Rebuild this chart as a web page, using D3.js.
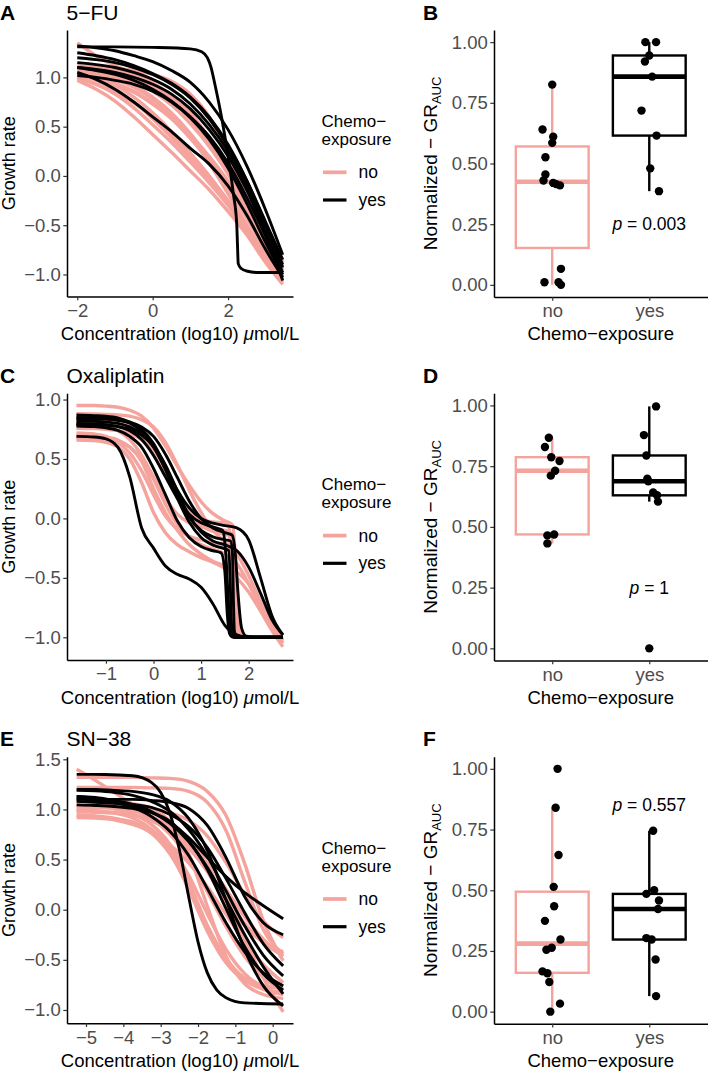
<!DOCTYPE html>
<html><head><meta charset="utf-8">
<script src="https://cdn.jsdelivr.net/npm/d3@7"></script>
<style>
body{margin:0;background:#fff;}
svg{display:block;font-family:"Liberation Sans",Arial,Helvetica,sans-serif;}
</style></head><body>
<svg id="fig" width="708" height="1072"></svg>
<script>
// ---------------- DATA ----------------
// Panel A: 5-FU growth-rate curves (log10 concentration grid, GR values)
const gridFU = [-2,-1.5,-1,-0.5,0,0.5,1,1.5,2,2.5,3,3.45];
const fuNo = [
 [gridFU,[0.97,0.88,0.76,0.6,0.42,0.24,0.05,-0.14,-0.36,-0.6,-0.88,-1.1]],
 [gridFU,[1.0,0.93,0.83,0.69,0.52,0.34,0.14,-0.07,-0.3,-0.56,-0.84,-1.07]],
 [gridFU,[1.03,0.97,0.88,0.75,0.58,0.39,0.18,-0.04,-0.28,-0.54,-0.82,-1.05]],
 [gridFU,[1.05,1.0,0.92,0.8,0.64,0.45,0.23,0.0,-0.25,-0.52,-0.8,-1.02]],
 [gridFU,[1.1,1.08,1.05,0.99,0.9,0.77,0.58,0.33,0.03,-0.33,-0.67,-0.92]],
 [gridFU,[1.12,1.1,1.07,1.02,0.94,0.82,0.64,0.38,0.05,-0.32,-0.66,-0.9]],
 [gridFU,[1.08,1.05,1.0,0.92,0.8,0.64,0.43,0.18,-0.1,-0.42,-0.73,-0.96]],
 [gridFU,[1.35,1.22,1.12,1.04,0.94,0.8,0.62,0.39,0.1,-0.25,-0.6,-0.87]],
 [gridFU,[1.02,0.98,0.93,0.85,0.73,0.58,0.38,0.15,-0.12,-0.43,-0.75,-1.0]],
 [gridFU,[1.06,1.03,0.98,0.9,0.78,0.62,0.4,0.13,-0.18,-0.5,-0.8,-1.02]],
 [gridFU,[1.1,1.1,1.09,1.07,1.03,0.96,0.83,0.6,0.22,-0.25,-0.65,-0.88]],
 [gridFU,[0.99,0.93,0.85,0.74,0.6,0.43,0.23,0.0,-0.26,-0.55,-0.85,-1.08]],
 [gridFU,[1.1,1.07,1.03,0.96,0.86,0.72,0.53,0.3,0.02,-0.3,-0.62,-0.85]],
 [gridFU,[1.04,1.0,0.94,0.86,0.74,0.59,0.41,0.2,-0.05,-0.34,-0.66,-0.95]]
];
const fuYes = [
 [[-2,-1,0,1,1.3,1.45,1.55,1.65,1.83,2.0,2.14,2.23,2.25,2.27,2.35,2.49,2.8,3.45],
  [1.31,1.31,1.305,1.29,1.26,1.2,1.1,0.93,0.59,0.2,-0.18,-0.49,-0.7,-0.89,-0.94,-0.965,-0.98,-0.98]],
 [gridFU,[1.32,1.3,1.27,1.22,1.16,1.07,0.95,0.75,0.47,0.1,-0.35,-0.8]],
 [gridFU,[1.2,1.18,1.15,1.1,1.03,0.93,0.79,0.58,0.3,-0.05,-0.47,-0.85]],
 [gridFU,[1.15,1.13,1.1,1.05,0.98,0.88,0.73,0.52,0.25,-0.1,-0.52,-0.9]],
 [gridFU,[1.1,1.08,1.05,1.0,0.93,0.83,0.68,0.47,0.2,-0.15,-0.58,-0.98]],
 [gridFU,[1.05,0.98,0.88,0.75,0.6,0.45,0.28,0.12,-0.1,-0.4,-0.75,-1.03]],
 [gridFU,[1.02,1.0,0.97,0.93,0.86,0.75,0.59,0.37,0.08,-0.28,-0.68,-1.0]],
 [gridFU,[1.25,1.22,1.18,1.12,1.04,0.94,0.8,0.6,0.32,-0.05,-0.5,-0.93]],
 [gridFU,[1.1,1.07,1.03,0.97,0.88,0.76,0.6,0.4,0.13,-0.22,-0.62,-1.06]]
];

// Panel C: Oxaliplatin
const gridOx = [-1.62,-1.25,-1,-0.75,-0.5,-0.25,0,0.25,0.5,0.75,1,1.25,1.5,1.75,2,2.25,2.5,2.72];
const oxNo = [
 [[-1.62,-1.25,-1,-0.75,-0.5,-0.25,0,0.25,0.5,0.75,1,1.25,1.5,1.65,1.7,1.74,1.78,1.85,2.0,2.72],
  [0.95,0.95,0.945,0.935,0.91,0.86,0.76,0.61,0.44,0.28,0.14,0.04,-0.02,-0.05,-0.2,-0.6,-0.9,-0.98,-1.0,-1.0]],
 [gridOx,[0.66,0.655,0.64,0.6,0.5,0.3,0.05,-0.12,-0.22,-0.28,-0.33,-0.37,-0.42,-0.5,-0.62,-0.78,-0.95,-1.08]],
 [gridOx,[0.7,0.695,0.685,0.66,0.6,0.48,0.25,0.05,-0.1,-0.22,-0.3,-0.36,-0.4,-0.45,-0.55,-0.72,-0.9,-1.05]],
 [[-1.62,-1.25,-1,-0.75,-0.5,-0.25,0,0.25,0.5,0.75,1,1.25,1.5,1.62,1.68,1.72,1.78,1.9,2.72],
  [0.796,0.788,0.772,0.737,0.664,0.53,0.35,0.17,0.036,-0.037,-0.072,-0.088,-0.1,-0.12,-0.4,-0.8,-0.97,-1.0,-1.0]],
 [[-1.62,-1.25,-1,-0.75,-0.5,-0.25,0,0.25,0.5,0.75,1,1.25,1.5,1.62,1.68,1.73,1.8,2.0,2.72],
  [0.72,0.71,0.69,0.64,0.55,0.4,0.2,0.02,-0.09,-0.15,-0.18,-0.2,-0.22,-0.23,-0.5,-0.85,-0.98,-1.0,-1.0]],
 [gridOx,[0.68,0.675,0.67,0.65,0.6,0.5,0.33,0.12,-0.05,-0.16,-0.22,-0.26,-0.3,-0.38,-0.55,-0.76,-0.93,-1.03]],
 [[-1.62,-1.25,-1,-0.75,-0.5,-0.25,0,0.25,0.5,0.75,1,1.25,1.5,1.65,1.72,1.77,1.83,1.95,2.72],
  [0.759,0.756,0.75,0.74,0.715,0.66,0.55,0.39,0.187,0.032,-0.06,-0.11,-0.134,-0.15,-0.35,-0.75,-0.96,-1.0,-1.0]],
 [gridOx,[0.88,0.878,0.875,0.87,0.86,0.83,0.77,0.64,0.45,0.24,0.05,-0.1,-0.2,-0.3,-0.48,-0.7,-0.9,-1.02]],
 [[-1.62,-1.25,-1,-0.75,-0.5,-0.25,0,0.25,0.5,0.75,1,1.25,1.5,1.58,1.63,1.68,1.74,1.9,2.72],
  [0.82,0.818,0.815,0.8,0.77,0.7,0.57,0.39,0.2,0.06,-0.01,-0.03,-0.04,-0.06,-0.4,-0.85,-0.98,-1.0,-1.0]]
];
const oxYes = [
 [gridOx,[0.69,0.685,0.67,0.6,0.35,-0.08,-0.25,-0.4,-0.47,-0.51,-0.58,-0.72,-0.9,-0.98,-1.0,-1.0,-1.0,-1.0]],
 [gridOx,[0.87,0.865,0.86,0.845,0.81,0.75,0.63,0.44,0.24,0.09,0.0,-0.04,-0.06,-0.08,-0.18,-0.5,-0.83,-0.98]],
 [[-1.62,-1.25,-1,-0.75,-0.5,-0.25,0,0.25,0.5,0.75,1,1.25,1.5,1.62,1.66,1.68,1.7,1.75,2,2.72],
  [0.849,0.846,0.84,0.826,0.8,0.73,0.61,0.42,0.19,0.01,-0.1,-0.155,-0.18,-0.19,-0.3,-0.7,-0.95,-0.99,-1.0,-1.0]],
 [[-1.62,-1.25,-1,-0.75,-0.5,-0.25,0,0.25,0.5,0.75,1,1.25,1.5,1.58,1.61,1.63,1.66,1.72,2,2.72],
  [0.819,0.817,0.81,0.8,0.77,0.71,0.6,0.41,0.17,-0.03,-0.16,-0.225,-0.256,-0.27,-0.5,-0.8,-0.97,-1.0,-1.0,-1.0]],
 [[-1.62,-1.25,-1,-0.75,-0.5,-0.25,0,0.25,0.5,0.75,1,1.25,1.45,1.52,1.58,1.63,1.7,2,2.72],
  [0.798,0.795,0.788,0.772,0.737,0.664,0.53,0.35,0.17,0.036,-0.037,-0.072,-0.1,-0.3,-0.75,-0.95,-1.0,-1.0,-1.0]],
 [gridOx,[0.789,0.787,0.783,0.773,0.75,0.7,0.61,0.45,0.23,0.02,-0.115,-0.19,-0.223,-0.27,-0.41,-0.63,-0.86,-0.98]],
 [[-1.62,-1.25,-1,-0.75,-0.5,-0.25,0,0.25,0.5,0.75,1,1.25,1.42,1.5,1.55,1.6,1.68,2,2.72],
  [0.778,0.772,0.763,0.74,0.69,0.6,0.42,0.2,-0.02,-0.16,-0.237,-0.272,-0.29,-0.45,-0.8,-0.97,-1.0,-1.0,-1.0]],
 [[-1.62,-1.25,-1,-0.75,-0.5,-0.25,0,0.25,0.5,0.75,1,1.25,1.5,1.65,1.72,1.78,1.85,1.95,2.2,2.72],
  [0.84,0.838,0.834,0.827,0.81,0.77,0.69,0.54,0.345,0.147,0.0,-0.08,-0.12,-0.14,-0.3,-0.65,-0.92,-0.99,-1.0,-1.0]]
];

// Panel E: SN-38
const gridSN = [-5.25,-4.75,-4.25,-3.75,-3.25,-2.75,-2.25,-1.75,-1.25,-0.75,-0.25,0.28];
const snNo = [
 [gridSN,[1.4,1.29,1.17,1.05,0.93,0.8,0.62,0.38,0.06,-0.3,-0.68,-1.02]],
 [gridSN,[1.32,1.32,1.32,1.32,1.315,1.31,1.28,1.18,0.94,0.46,-0.11,-0.51]],
 [gridSN,[1.22,1.22,1.22,1.22,1.215,1.21,1.18,1.07,0.79,0.28,-0.2,-0.44]],
 [gridSN,[0.944,0.934,0.913,0.864,0.762,0.555,0.231,-0.163,-0.485,-0.691,-0.794,-0.845]],
 [gridSN,[0.994,0.986,0.965,0.915,0.802,0.571,0.203,-0.214,-0.53,-0.708,-0.79,-0.827]],
 [gridSN,[1.041,1.031,1.007,0.956,0.851,0.654,0.342,-0.042,-0.395,-0.637,-0.773,-0.843]],
 [gridSN,[0.918,0.914,0.904,0.875,0.8,0.62,0.278,-0.158,-0.501,-0.68,-0.755,-0.785]],
 [gridSN,[1.087,1.073,1.048,0.999,0.909,0.752,0.508,0.18,-0.169,-0.466,-0.675,-0.809]],
 [gridSN,[0.992,0.984,0.97,0.941,0.885,0.786,0.622,0.39,0.118,-0.138,-0.328,-0.458]],
 [gridSN,[1.04,1.031,1.015,0.984,0.929,0.833,0.686,0.466,0.205,-0.07,-0.294,-0.466]],
 [gridSN,[0.976,0.972,0.963,0.942,0.897,0.805,0.64,0.388,0.092,-0.16,-0.325,-0.42]],
 [gridSN,[1.079,1.078,1.073,1.058,1.013,0.88,0.561,0.033,-0.464,-0.738,-0.846,-0.884]],
 [gridSN,[0.939,0.924,0.897,0.85,0.772,0.648,0.468,0.229,-0.047,-0.32,-0.549,-0.726]],
 [gridSN,[1.019,1.019,1.016,1.011,0.997,0.966,0.891,0.735,0.47,0.15,-0.115,-0.277]]
];
const snYes = [
 [[-5.25,-4.5,-3.75,-3.25,-3.0,-2.75,-2.5,-2.25,-2.0,-1.75,-1.5,-1.25,-0.75,0.28],
  [1.35,1.349,1.336,1.27,1.17,0.96,0.6,0.13,-0.32,-0.63,-0.8,-0.878,-0.929,-0.94]],
 [gridSN,[1.13,1.11,1.08,1.04,0.97,0.87,0.72,0.52,0.33,0.17,0.04,-0.09]],
 [gridSN,[1.1,1.1,1.1,1.1,1.09,1.07,1.01,0.84,0.52,0.13,-0.13,-0.25]],
 [gridSN,[1.19,1.185,1.17,1.14,1.08,0.98,0.8,0.53,0.186,-0.16,-0.455,-0.66]],
 [gridSN,[1.046,1.04,1.03,1.01,0.97,0.88,0.69,0.4,0.01,-0.37,-0.64,-0.8]],
 [gridSN,[1.2,1.2,1.19,1.18,1.15,1.08,0.91,0.59,0.1,-0.4,-0.76,-0.96]],
 [gridSN,[1.11,1.09,1.07,1.02,0.93,0.78,0.54,0.21,-0.13,-0.42,-0.63,-0.76]],
 [gridSN,[1.08,1.07,1.06,1.05,1.02,0.95,0.83,0.62,0.31,-0.03,-0.34,-0.56]],
 [gridSN,[1.13,1.12,1.09,1.05,0.98,0.86,0.68,0.42,0.1,-0.25,-0.57,-0.84]]
];

// Normalized GR_AUC values per sample, with horizontal jitter offsets
const fuAucNo  = [0.825,0.64,0.61,0.585,0.526,0.455,0.43,0.42,0.415,0.41,0.011,0.066,0.011,0.0];
const fuJitNo  = [0,-0.1,0.01,0,-0.07,-0.07,-0.09,0.01,0.04,0.08,-0.08,0.09,0.065,0.09];
const fuAucYes = [1.0,1.0,0.945,0.92,0.858,0.718,0.615,0.48,0.386];
const fuJitYes = [-0.04,0.07,0,-0.045,0.03,-0.08,0.075,0.01,0.1];
const oxAucNo  = [0.867,0.829,0.787,0.771,0.731,0.711,0.465,0.469,0.432];
const oxJitNo  = [-0.035,-0.075,-0.01,0.075,0.03,-0.015,-0.05,0.02,-0.05];
const oxAucYes = [0.996,0.878,0.794,0.698,0.688,0.642,0.63,0.604,0.0];
const oxJitYes = [0.07,-0.055,-0.03,-0.02,-0.01,0.04,0.08,0.09,0];
const snAucNo  = [1.0,0.84,0.645,0.514,0.434,0.374,0.297,0.263,0.255,0.166,0.158,0.122,0.033,0.0];
const snJitNo  = [0.055,0.035,0.065,0.015,0.02,-0.075,0.085,-0.005,-0.06,-0.1,-0.05,-0.03,0.08,-0.02];
const snAucYes = [0.745,0.485,0.5,0.458,0.423,0.303,0.297,0.215,0.064];
const snJitYes = [0.04,-0.03,0.05,0.1,0.09,-0.03,0.025,0.065,0.07];

const groups = ["no","yes"];
const drugs = ["5\u2212FU","Oxaliplatin","SN\u221238"];
const letters = [["A","B"],["C","D"],["E","F"]];
const pValues = ["0.003","1","0.557"];
const pPos = [0.25,0.25,0.85];
const fuXTicks = [-2,0,2], fuYTicks = [-1,-0.5,0,0.5,1];
const oxXTicks = [-1,0,1,2], oxYTicks = [-1,-0.5,0,0.5,1];
const snXTicks = [-5,-4,-3,-2,-1,0], snYTicks = [-1,-0.5,0,0.5,1,1.5];
const aucTicks = [0,0.25,0.5,0.75,1];

// ---------------- DRAWING ----------------
const PINK = "#F5A39D";
const GREY = "#4D4D4D";
const svg = d3.select("#fig");
const rowTop = [30, 393.3, 756.7], rowBot = [296.5, 660, 1023.3];
const LX = [67, 293], RX = [494, 707.5];
const FONT_TICK = 18.5, FONT_TITLE = 18.5;
const PINK_W = 3.4, BLACK_W = 2.9;
const minus = v => (v < 0 ? "\u2212" : "") + Math.abs(v);

function styleAxis(g){
  g.select(".domain").attr("stroke","#000").attr("stroke-width",1.5);
  g.selectAll(".tick line").attr("stroke","#333").attr("stroke-width",1.2);
  g.selectAll(".tick text").attr("fill",GREY).style("font-size",FONT_TICK+"px");
}

const curvePanels = [
  {no: fuNo, yes: fuYes, xd: [-2.2725,3.7225], yd: [-1.2235,1.481], xt: fuXTicks, yt: fuYTicks},
  {no: oxNo, yes: oxYes, xd: [-1.819,2.932], yd: [-1.191,1.0525], xt: oxXTicks, yt: oxYTicks},
  {no: snNo, yes: snYes, xd: [-5.509,0.544], yd: [-1.133,1.526], xt: snXTicks, yt: snYTicks}
];
const aucPanels = [
  {no: fuAucNo, jn: fuJitNo, yes: fuAucYes, jy: fuJitYes},
  {no: oxAucNo, jn: oxJitNo, yes: oxAucYes, jy: oxJitYes},
  {no: snAucNo, jn: snJitNo, yes: snAucYes, jy: snJitYes}
];

curvePanels.forEach((p, i) => {
  const top = rowTop[i], bot = rowBot[i];
  const x = d3.scaleLinear().domain(p.xd).range(LX);
  const y = d3.scaleLinear().domain(p.yd).range([bot, top]);
  const g = svg.append("g");
  const line = d3.line().x(d => x(d[0])).y(d => y(d[1])).curve(d3.curveMonotoneX);
  const toPts = c => c[0].map((xv, j) => [xv, c[1][j]]);
  g.selectAll(".no").data(p.no).join("path")
    .attr("d", c => line(toPts(c))).attr("fill","none")
    .attr("stroke",PINK).attr("stroke-width",PINK_W).attr("stroke-linejoin","round");
  g.selectAll(".yes").data(p.yes).join("path")
    .attr("d", c => line(toPts(c))).attr("fill","none")
    .attr("stroke","#000").attr("stroke-width",BLACK_W).attr("stroke-linejoin","round");

  const ax = g.append("g").attr("transform",`translate(0,${bot})`)
    .call(d3.axisBottom(x).tickValues(p.xt).tickFormat(minus).tickSize(3.7).tickPadding(3.5).tickSizeOuter(0));
  styleAxis(ax);
  const ay = g.append("g").attr("transform",`translate(${LX[0]},0)`)
    .call(d3.axisLeft(y).tickValues(p.yt).tickFormat(v => (v<0?"\u2212":"") + Math.abs(v).toFixed(1)).tickSize(3.7).tickPadding(2.5).tickSizeOuter(0));
  styleAxis(ay);

  // titles
  g.append("text").attr("x",0).attr("y",top-10.5).style("font-size","21px").style("font-weight","bold").text(letters[i][0]);
  g.append("text").attr("x",66.5).attr("y",top-10.5).style("font-size","21px").text(drugs[i]);
  g.append("text").attr("transform",`translate(15,${(top+bot)/2}) rotate(-90)`).attr("text-anchor","middle")
    .style("font-size","18px").text("Growth rate");
  const xt = g.append("text").attr("x",(LX[0]+LX[1])/2).attr("y",bot+43.5).attr("text-anchor","middle").style("font-size",FONT_TITLE+"px");
  xt.append("tspan").text("Concentration (log10) ");
  xt.append("tspan").style("font-style","italic").text("\u03BC");
  xt.append("tspan").text("mol/L");

  // legend
  const lg = g.append("g");
  lg.append("text").attr("x",321.5).attr("y",top+97).style("font-size","17px").text("Chemo\u2212");
  lg.append("text").attr("x",321.5).attr("y",top+115).style("font-size","17px").text("exposure");
  [[PINK,"no",142.3,PINK_W],["#000","yes",170,BLACK_W]].forEach(([c,t,dy,w]) => {
    lg.append("line").attr("x1",323).attr("x2",346.5).attr("y1",top+dy).attr("y2",top+dy).attr("stroke",c).attr("stroke-width",w+0.3);
    lg.append("text").attr("x",358.5).attr("y",top+dy).attr("dy","0.35em").style("font-size","17.5px").text(t);
  });
});

function boxStats(v){
  const s = v.slice().sort(d3.ascending);
  const q1 = d3.quantileSorted(s,0.25), med = d3.quantileSorted(s,0.5), q3 = d3.quantileSorted(s,0.75);
  const iqr = q3 - q1;
  const lo = d3.min(s.filter(d => d >= q1 - 1.5*iqr));
  const hi = d3.max(s.filter(d => d <= q3 + 1.5*iqr));
  return {q1, med, q3, lo, hi};
}

aucPanels.forEach((p, i) => {
  const top = rowTop[i], bot = rowBot[i] + 0.5;
  const x = d3.scaleLinear().domain([0.4,2.6]).range(RX);
  const y = d3.scaleLinear().domain([-0.05,1.05]).range([bot, top]);
  const g = svg.append("g");
  const bw = 0.375;
  [[p.no, p.jn, PINK, 1],[p.yes, p.jy, "#000", 2]].forEach(([vals, jit, col, cx]) => {
    const s = boxStats(vals);
    g.append("line").attr("x1",x(cx)).attr("x2",x(cx)).attr("y1",y(s.q3)).attr("y2",y(s.hi)).attr("stroke",col).attr("stroke-width",2.4);
    g.append("line").attr("x1",x(cx)).attr("x2",x(cx)).attr("y1",y(s.q1)).attr("y2",y(s.lo)).attr("stroke",col).attr("stroke-width",2.4);
    g.append("rect").attr("x",x(cx-bw)).attr("width",x(cx+bw)-x(cx-bw)).attr("y",y(s.q3)).attr("height",y(s.q1)-y(s.q3))
      .attr("fill","#fff").attr("stroke",col).attr("stroke-width",2.4);
    g.append("line").attr("x1",x(cx-bw)).attr("x2",x(cx+bw)).attr("y1",y(s.med)).attr("y2",y(s.med)).attr("stroke",col).attr("stroke-width",4.6);
    g.selectAll(null).data(vals).join("circle")
      .attr("cx",(d,j) => x(cx + jit[j])).attr("cy", d => y(d)).attr("r",4.2).attr("fill","#000");
  });

  const ax = g.append("g").attr("transform",`translate(0,${bot})`)
    .call(d3.axisBottom(x).tickValues([1,2]).tickFormat(d => groups[d-1]).tickSize(3.7).tickPadding(3.5).tickSizeOuter(0));
  styleAxis(ax);
  const ay = g.append("g").attr("transform",`translate(${RX[0]},0)`)
    .call(d3.axisLeft(y).tickValues(aucTicks).tickFormat(d3.format(".2f")).tickSize(3.7).tickPadding(2.5).tickSizeOuter(0));
  styleAxis(ay);

  g.append("text").attr("x",423).attr("y",top-10.5).style("font-size","21px").style("font-weight","bold").text(letters[i][1]);
  const yt = g.append("text").attr("transform",`translate(437,${(top+bot)/2}) rotate(-90)`).attr("text-anchor","middle").style("font-size","19px");
  yt.append("tspan").text("Normalized \u2212 GR");
  yt.append("tspan").attr("dy",4).style("font-size","13px").text("AUC");
  g.append("text").attr("x",(RX[0]+RX[1])/2).attr("y",bot+43).attr("text-anchor","middle").style("font-size",FONT_TITLE+"px").text("Chemo\u2212exposure");

  const pt = g.append("text").attr("x",x(2)).attr("y",y(pPos[i])).attr("dy","0.35em").attr("text-anchor","middle").style("font-size","17.5px");
  pt.append("tspan").style("font-style","italic").text("p");
  pt.append("tspan").text(" = " + pValues[i]);
});
</script></body></html>
